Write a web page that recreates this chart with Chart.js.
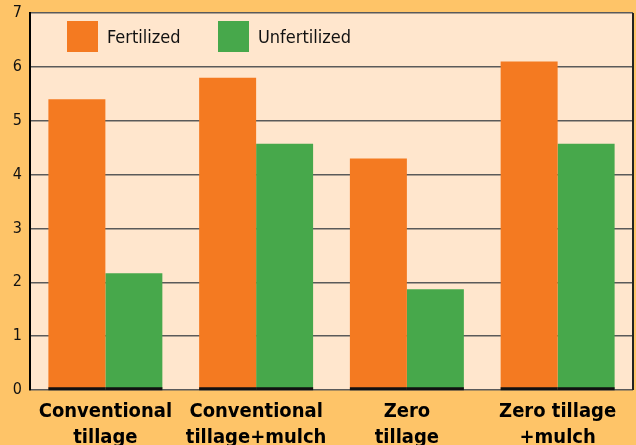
<!DOCTYPE html>
<html>
<head>
<meta charset="utf-8">
<script src="https://cdn.jsdelivr.net/npm/chart.js@4.4.0/dist/chart.umd.min.js"></script>
<style>
  html, body { margin: 0; padding: 0; background: #FEC468; }
  #wrap { width: 636px; height: 445px; }
</style>
</head>
<body>
<div id="wrap"><canvas id="chart" width="636" height="445"></canvas></div>
<script>
// Data
var categories = [
    ["Conventional", "tillage"],
    ["Conventional", "tillage+mulch"],
    ["Zero", "tillage"],
    ["Zero tillage", "+mulch"]
];
var fertilized = [5.4, 5.8, 4.3, 6.1];
var unfertilized = [2.17, 4.57, 1.87, 4.57];
var yTicks = [0, 1, 2, 3, 4, 5, 6, 7];

var labelFont = "'DejaVu Sans Condensed', 'Liberation Sans Narrow', sans-serif";

// Plot background, right frame and black bar bases
var plotFrame = {
    id: 'plotFrame',
    beforeDraw: function (chart) {
        var c = chart.ctx, a = chart.chartArea;
        c.save();
        c.fillStyle = '#FEC468';
        c.fillRect(0, 0, chart.width, chart.height);
        c.fillStyle = '#FFE6CD';
        c.fillRect(a.left, a.top, a.right - a.left, a.bottom - a.top);
        c.restore();
    },
    afterDatasetsDraw: function (chart) {
        var c = chart.ctx, a = chart.chartArea;
        c.save();
        c.strokeStyle = '#222';
        c.lineWidth = 2;
        c.beginPath();
        c.moveTo(a.right, a.top);
        c.lineTo(a.right, a.bottom);
        c.stroke();
        // black base under each bar
        c.fillStyle = '#111';
        chart.data.datasets.forEach(function (ds, i) {
            chart.getDatasetMeta(i).data.forEach(function (bar) {
                c.fillRect(bar.x - bar.width / 2, bar.base - 2, bar.width, 3);
            });
        });
        c.restore();
    }
};

// Legend drawn inside the plot
var insideLegend = {
    id: 'insideLegend',
    afterDraw: function (chart) {
        var c = chart.ctx, a = chart.chartArea;
        var xs = [a.left + 37, a.left + 188];
        c.save();
        c.font = '18px ' + labelFont;
        c.textBaseline = 'middle';
        chart.data.datasets.forEach(function (ds, i) {
            c.fillStyle = ds.backgroundColor;
            c.fillRect(xs[i], a.top + 8, 31, 31);
            c.fillStyle = '#111';
            c.fillText(ds.label, xs[i] + 40, a.top + 25);
        });
        c.restore();
    }
};

var ctx = document.getElementById('chart').getContext('2d');
var myChart = new Chart(ctx, {
    type: 'bar',
    data: {
        labels: categories,
        datasets: [{
                label: 'Fertilized',
                data: fertilized,
                backgroundColor: '#F47A21',
                borderWidth: 0
            },
            {
                label: 'Unfertilized',
                data: unfertilized,
                backgroundColor: '#47A84B',
                borderWidth: 0
            }
        ]
    },
    options: {
        responsive: false,
        animation: false,
        layout: {padding: {top: 0, right: 3, left: 0, bottom: 0}},
        categoryPercentage: 0.756,
        barPercentage: 1.0,
        plugins: {
            legend: {display: false},
            tooltip: {enabled: false}
        },
        scales: {
            x: {
                grid: {display: false},
                border: {display: false},
                ticks: {
                    color: '#000',
                    padding: 1,
                    maxRotation: 0,
                    autoSkip: false,
                    font: {family: labelFont, size: 20, weight: 'bold', lineHeight: 1.3}
                },
                afterFit: function (scale) { scale.height = 55; }
            },
            y: {
                min: 0,
                max: 7,
                afterBuildTicks: function (scale) {
                    scale.ticks = yTicks.map(function (v) { return {value: v}; });
                },
                grid: {color: '#5a5a5a', lineWidth: 1.5, drawTicks: false},
                border: {display: true, color: '#000', width: 2},
                ticks: {
                    color: '#111',
                    padding: 8,
                    font: {family: labelFont, size: 16, lineHeight: 0.625}
                },
                afterFit: function (scale) { scale.width = 30; }
            }
        }
    },
    plugins: [plotFrame, insideLegend]
});
</script>
</body>
</html>
